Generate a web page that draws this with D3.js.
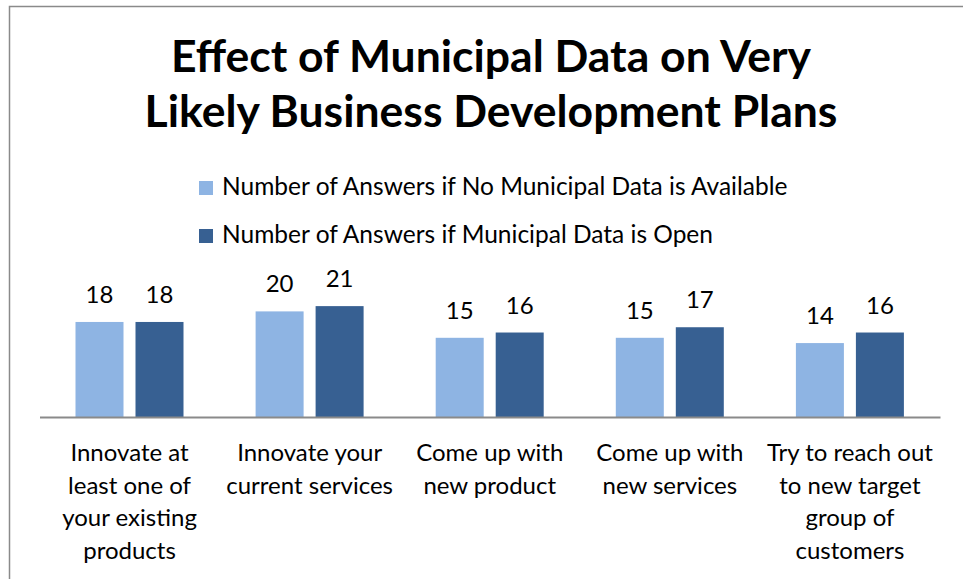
<!DOCTYPE html>
<html>
<head>
    <script src="https://cdnjs.cloudflare.com/ajax/libs/d3/7.8.5/d3.min.js"></script>
    <style>
        body { margin: 0; background: #fff; }
        text { font-family: Lato, "Open Sans", sans-serif; fill: #000; }
    </style>
</head>
<body>
    <div id="chart"></div>
    <script>
        const width = 963;
        const height = 579;

        // data
        const categories = [
            "Innovate at least one of your existing products",
            "Innovate your current services",
            "Come up with new product",
            "Come up with new services",
            "Try to reach out to new target group of customers"
        ];
        const categoryLines = [
            ["Innovate at", "least one of", "your existing", "products"],
            ["Innovate your", "current services"],
            ["Come up with", "new product"],
            ["Come up with", "new services"],
            ["Try to reach out", "to new target", "group of", "customers"]
        ];
        const seriesNames = [
            "Number of Answers if No Municipal Data is Available",
            "Number of Answers if Municipal Data is Open"
        ];
        const noDataValues = [18, 20, 15, 15, 14];
        const openDataValues = [18, 21, 16, 17, 16];
        const colors = ["#8EB4E3", "#376092"];

        const svg = d3.select("#chart")
            .append("svg")
            .attr("width", width)
            .attr("height", height);

        // chart border (runs off the bottom/right)
        svg.append("rect")
            .attr("x", 9.5)
            .attr("y", 6.5)
            .attr("width", 960)
            .attr("height", 600)
            .attr("fill", "none")
            .attr("stroke", "#8a8a8a")
            .attr("stroke-width", 1.5);

        // title
        const title = svg.append("text")
            .attr("text-anchor", "middle")
            .attr("font-size", "44.5px")
            .attr("font-weight", "bold");
        title.append("tspan").attr("x", 491).attr("y", 72).text("Effect of Municipal Data on Very");
        title.append("tspan").attr("x", 491).attr("y", 127).text("Likely Business Development Plans");

        // legend
        seriesNames.forEach((name, i) => {
            const ly = 181 + i * 48;
            svg.append("rect")
                .attr("x", 199)
                .attr("y", ly)
                .attr("width", 14)
                .attr("height", 14)
                .attr("fill", colors[i]);
            svg.append("text")
                .attr("x", 222)
                .attr("y", ly + 14)
                .attr("font-size", "24.5px")
                .text(name);
        });

        // scales
        const x0 = d3.scaleBand()
            .domain(categories)
            .range([39.5, 940]);

        const x1 = d3.scaleBand()
            .domain([0, 1])
            .range([36, 144])
            .paddingInner(0.2);

        const y = d3.scaleLinear()
            .domain([0, 25])
            .range([417, 285]);

        const series = [noDataValues, openDataValues];

        const groups = svg.selectAll(".cat")
            .data(categories)
            .enter()
            .append("g")
            .attr("class", "cat")
            .attr("transform", d => `translate(${x0(d)},0)`);

        groups.each(function(cat, ci) {
            const g = d3.select(this);
            series.forEach((vals, si) => {
                const v = vals[ci];
                g.append("rect")
                    .attr("x", x1(si))
                    .attr("y", y(v))
                    .attr("width", x1.bandwidth())
                    .attr("height", y(0) - y(v))
                    .attr("fill", colors[si]);
                g.append("text")
                    .attr("x", x1(si) + x1.bandwidth() / 2)
                    .attr("y", y(v) - 19)
                    .attr("text-anchor", "middle")
                    .attr("font-size", "24px")
                    .text(v);
            });
        });

        // category axis
        const xAxis = svg.append("g")
            .attr("transform", `translate(0,${y(0)})`)
            .call(d3.axisBottom(x0).tickSize(0).tickFormat(""));
        xAxis.select(".domain")
            .attr("stroke", "#8a8a8a")
            .attr("stroke-width", 2);

        categories.forEach((cat, ci) => {
            const t = svg.append("text")
                .attr("text-anchor", "middle")
                .attr("font-size", "24px");
            categoryLines[ci].forEach((line, li) => {
                t.append("tspan")
                    .attr("x", x0(cat) + x0.bandwidth() / 2)
                    .attr("y", 461 + li * 32.5)
                    .text(line);
            });
        });
    </script>
</body>
</html>
